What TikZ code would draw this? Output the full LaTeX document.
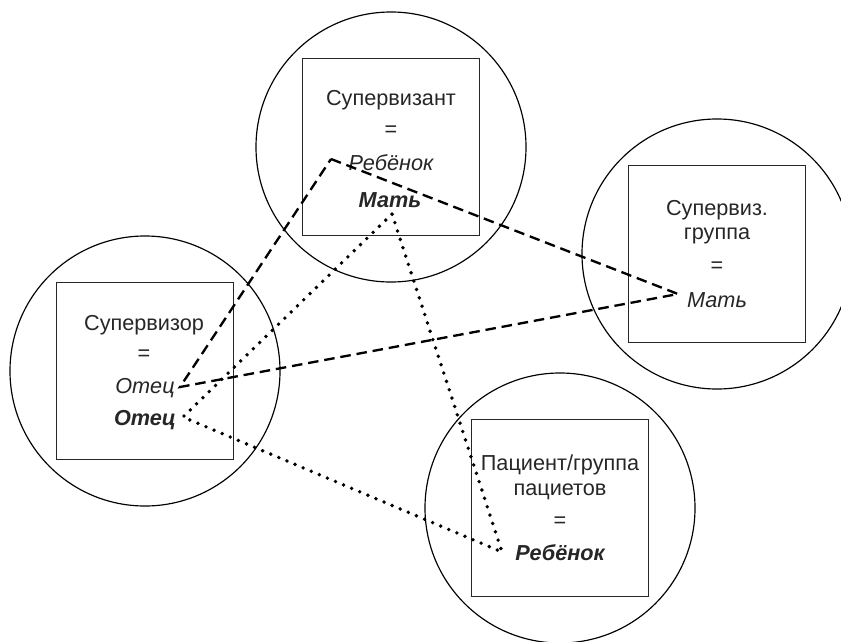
\documentclass[tikz,border=0pt]{standalone}
\usepackage{fontspec}
\setmainfont{Liberation Sans}
\usetikzlibrary{positioning}

\tikzset{
  ring/.style={draw, circle, line width=1pt, minimum size=8.1cm, inner sep=0pt},
  frame/.style={draw=black!85, rectangle, line width=1.3pt, minimum size=5.31cm, inner sep=0pt},
  lbl/.style={font=\fontsize{18.5}{22}\selectfont, text=black!85, inner sep=0pt},
  dashline/.style={line width=2pt, dash pattern=on 9pt off 5pt},
  dotline/.style={line width=3.3pt, line cap=round, dash pattern=on 0pt off 7.5pt},
}

\begin{document}
\begin{tikzpicture}[x=0.03cm, y=-0.03cm]
  \clip (0,0) rectangle (841,641);

  % circles with their frames
  \foreach \n/\x/\y in {sv/391/147, gr/717/254, su/145/371, pa/560/508} {
    \node[ring] (c\n) at (\x,\y) {};
    \node[frame] (f\n) at (\x,\y) {};
  }

  % supervisee
  \node[lbl] (svA) at (391,100) {Супервизант};
  \node[lbl] (svB) at (391,131) {=};
  \node[lbl] (svC) at (391,163) {\itshape Ребёнок};
  \node[lbl] (svD) at (390,200) {\bfseries\itshape Мать};

  % supervision group
  \node[lbl] (grA) at (717,210) {Супервиз.};
  \node[lbl] (grB) at (717,236) {группа};
  \node[lbl] (grC) at (717,267) {=};
  \node[lbl] (grD) at (717,300) {\itshape Мать};

  % supervisor
  \node[lbl] (suA) at (144,325) {Супервизор};
  \node[lbl] (suB) at (144,355) {=};
  \node[lbl] (suC) at (145,388) {\itshape Отец};
  \node[lbl] (suD) at (145,420) {\bfseries\itshape Отец};

  % patient
  \node[lbl] (paA) at (560,465) {Пациент/группа};
  \node[lbl] (paB) at (560,492) {пациетов};
  \node[lbl] (paC) at (560,522) {=};
  \node[lbl] (paD) at (560,553) {\bfseries\itshape Ребёнок};

  % corners of the two triangles
  \coordinate (dA) at (331,159);
  \coordinate (dB) at (678,294);
  \coordinate (dC) at (180,387);
  \coordinate (pA) at (392,214);
  \coordinate (pB) at (183,417);
  \coordinate (pC) at (502,552);

  \draw[dashline] (dA) -- (dB) -- (dC) -- cycle;
  \draw[dotline] (pA) -- (pB) -- (pC) -- cycle;
\end{tikzpicture}
\end{document}
